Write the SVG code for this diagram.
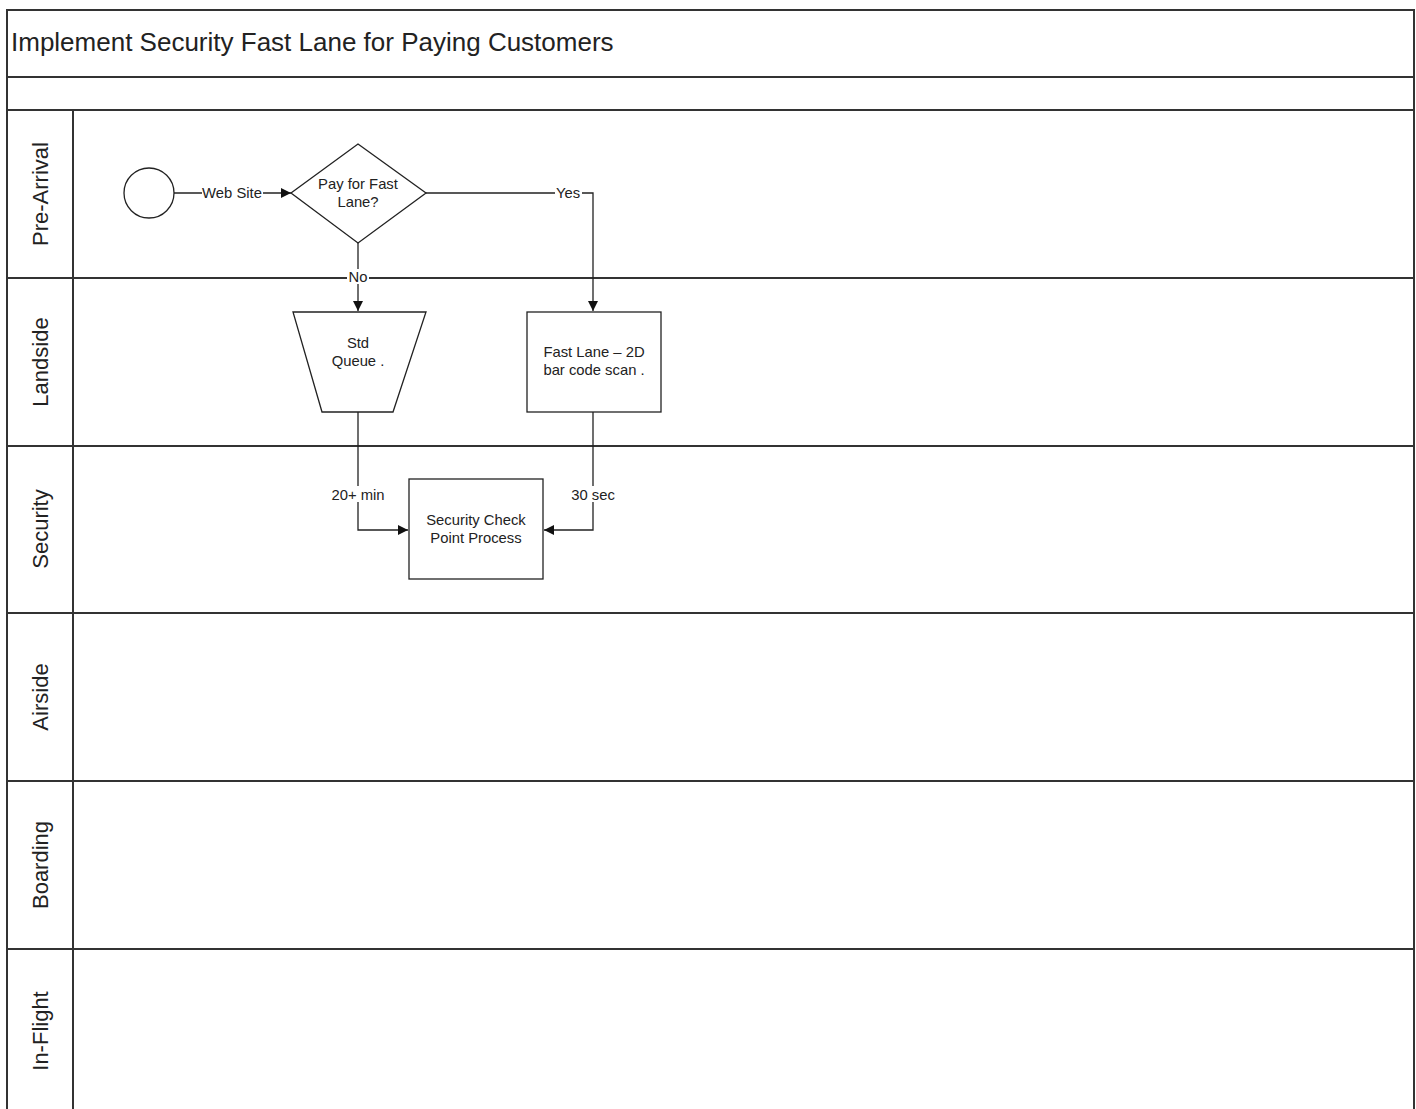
<svg xmlns="http://www.w3.org/2000/svg" width="1416" height="1109" viewBox="0 0 1416 1109">
  <defs>
    <marker id="arrow" viewBox="0 0 10 10" refX="10" refY="5" markerWidth="10" markerHeight="10" markerUnits="userSpaceOnUse" orient="auto">
      <path d="M0,0 L10,5 L0,10 z" fill="#111"/>
    </marker>
  </defs>
  <style>
    .frame { fill: none; stroke: #333; stroke-width: 2; }
    .shape { fill: #fff; stroke: #222; stroke-width: 1.3; }
    .conn { fill: none; stroke: #222; stroke-width: 1.3; }
    .title { font-family: "Liberation Sans", Arial, sans-serif; font-size: 26px; fill: #222; }
    .lane { font-family: "Liberation Sans", Arial, sans-serif; font-size: 22px; fill: #222; text-anchor: middle; }
    .txt { font-family: "Liberation Sans", Arial, sans-serif; font-size: 14.8px; fill: #222; text-anchor: middle; }
    .lbl { font-family: "Liberation Sans", Arial, sans-serif; font-size: 14.8px; fill: #222; text-anchor: middle; }
    .bg { fill: #fff; }
  </style>
  <rect x="0" y="0" width="1416" height="1109" fill="#fff"/>

  <!-- pool frame and lanes -->
  <g id="pool">
    <path class="frame" d="M7,1112 V10 H1414 V1112"/>
    <line class="frame" x1="7" y1="77" x2="1414" y2="77"/>
    <line class="frame" x1="7" y1="110" x2="1414" y2="110"/>
    <line class="frame" x1="7" y1="278" x2="1414" y2="278"/>
    <line class="frame" x1="7" y1="446" x2="1414" y2="446"/>
    <line class="frame" x1="7" y1="613" x2="1414" y2="613"/>
    <line class="frame" x1="7" y1="781" x2="1414" y2="781"/>
    <line class="frame" x1="7" y1="949" x2="1414" y2="949"/>
    <line class="frame" x1="73" y1="110" x2="73" y2="1112"/>
    <text class="title" x="11" y="51">Implement Security Fast Lane for Paying Customers</text>
    <text class="lane" transform="translate(48,194) rotate(-90)">Pre-Arrival</text>
    <text class="lane" transform="translate(48,362) rotate(-90)">Landside</text>
    <text class="lane" transform="translate(48,529) rotate(-90)">Security</text>
    <text class="lane" transform="translate(48,697) rotate(-90)">Airside</text>
    <text class="lane" transform="translate(48,865) rotate(-90)">Boarding</text>
    <text class="lane" transform="translate(48,1031) rotate(-90)">In-Flight</text>
  </g>

  <!-- connectors -->
  <g id="connectors">
    <line class="conn" x1="174" y1="193" x2="291" y2="193" marker-end="url(#arrow)"/>
    <rect class="bg" x="202" y="185" width="61" height="16"/>
    <text class="lbl" x="232" y="198">Web Site</text>

    <polyline class="conn" points="426,193 593,193 593,311" marker-end="url(#arrow)"/>
    <rect class="bg" x="555" y="185" width="27" height="16"/>
    <text class="lbl" x="568" y="198">Yes</text>

    <line class="conn" x1="358" y1="243" x2="358" y2="311" marker-end="url(#arrow)"/>
    <rect class="bg" x="347" y="269" width="22" height="15"/>
    <text class="lbl" x="358" y="282">No</text>

    <polyline class="conn" points="358,412 358,530 408,530" marker-end="url(#arrow)"/>
    <rect class="bg" x="329" y="486" width="58" height="16"/>
    <text class="lbl" x="358" y="500">20+ min</text>

    <polyline class="conn" points="593,412 593,530 544,530" marker-end="url(#arrow)"/>
    <rect class="bg" x="569" y="486" width="48" height="16"/>
    <text class="lbl" x="593" y="500">30 sec</text>
  </g>

  <!-- nodes -->
  <g id="start">
    <circle class="shape" cx="149" cy="193" r="25"/>
  </g>
  <g id="decision-pay">
    <polygon class="shape" points="358,144 426,193 358,243 291,193"/>
    <text class="txt" x="358" y="189">Pay for Fast</text>
    <text class="txt" x="358" y="207">Lane?</text>
  </g>
  <g id="std-queue">
    <polygon class="shape" points="293,312 426,312 393,412 322,412"/>
    <text class="txt" x="358" y="348">Std</text>
    <text class="txt" x="358" y="366">Queue .</text>
  </g>
  <g id="fast-lane">
    <rect class="shape" x="527" y="312" width="134" height="100"/>
    <text class="txt" x="594" y="357">Fast Lane – 2D</text>
    <text class="txt" x="594" y="375">bar code scan .</text>
  </g>
  <g id="security-check">
    <rect class="shape" x="409" y="479" width="134" height="100"/>
    <text class="txt" x="476" y="525">Security Check</text>
    <text class="txt" x="476" y="543">Point Process</text>
  </g>
</svg>
